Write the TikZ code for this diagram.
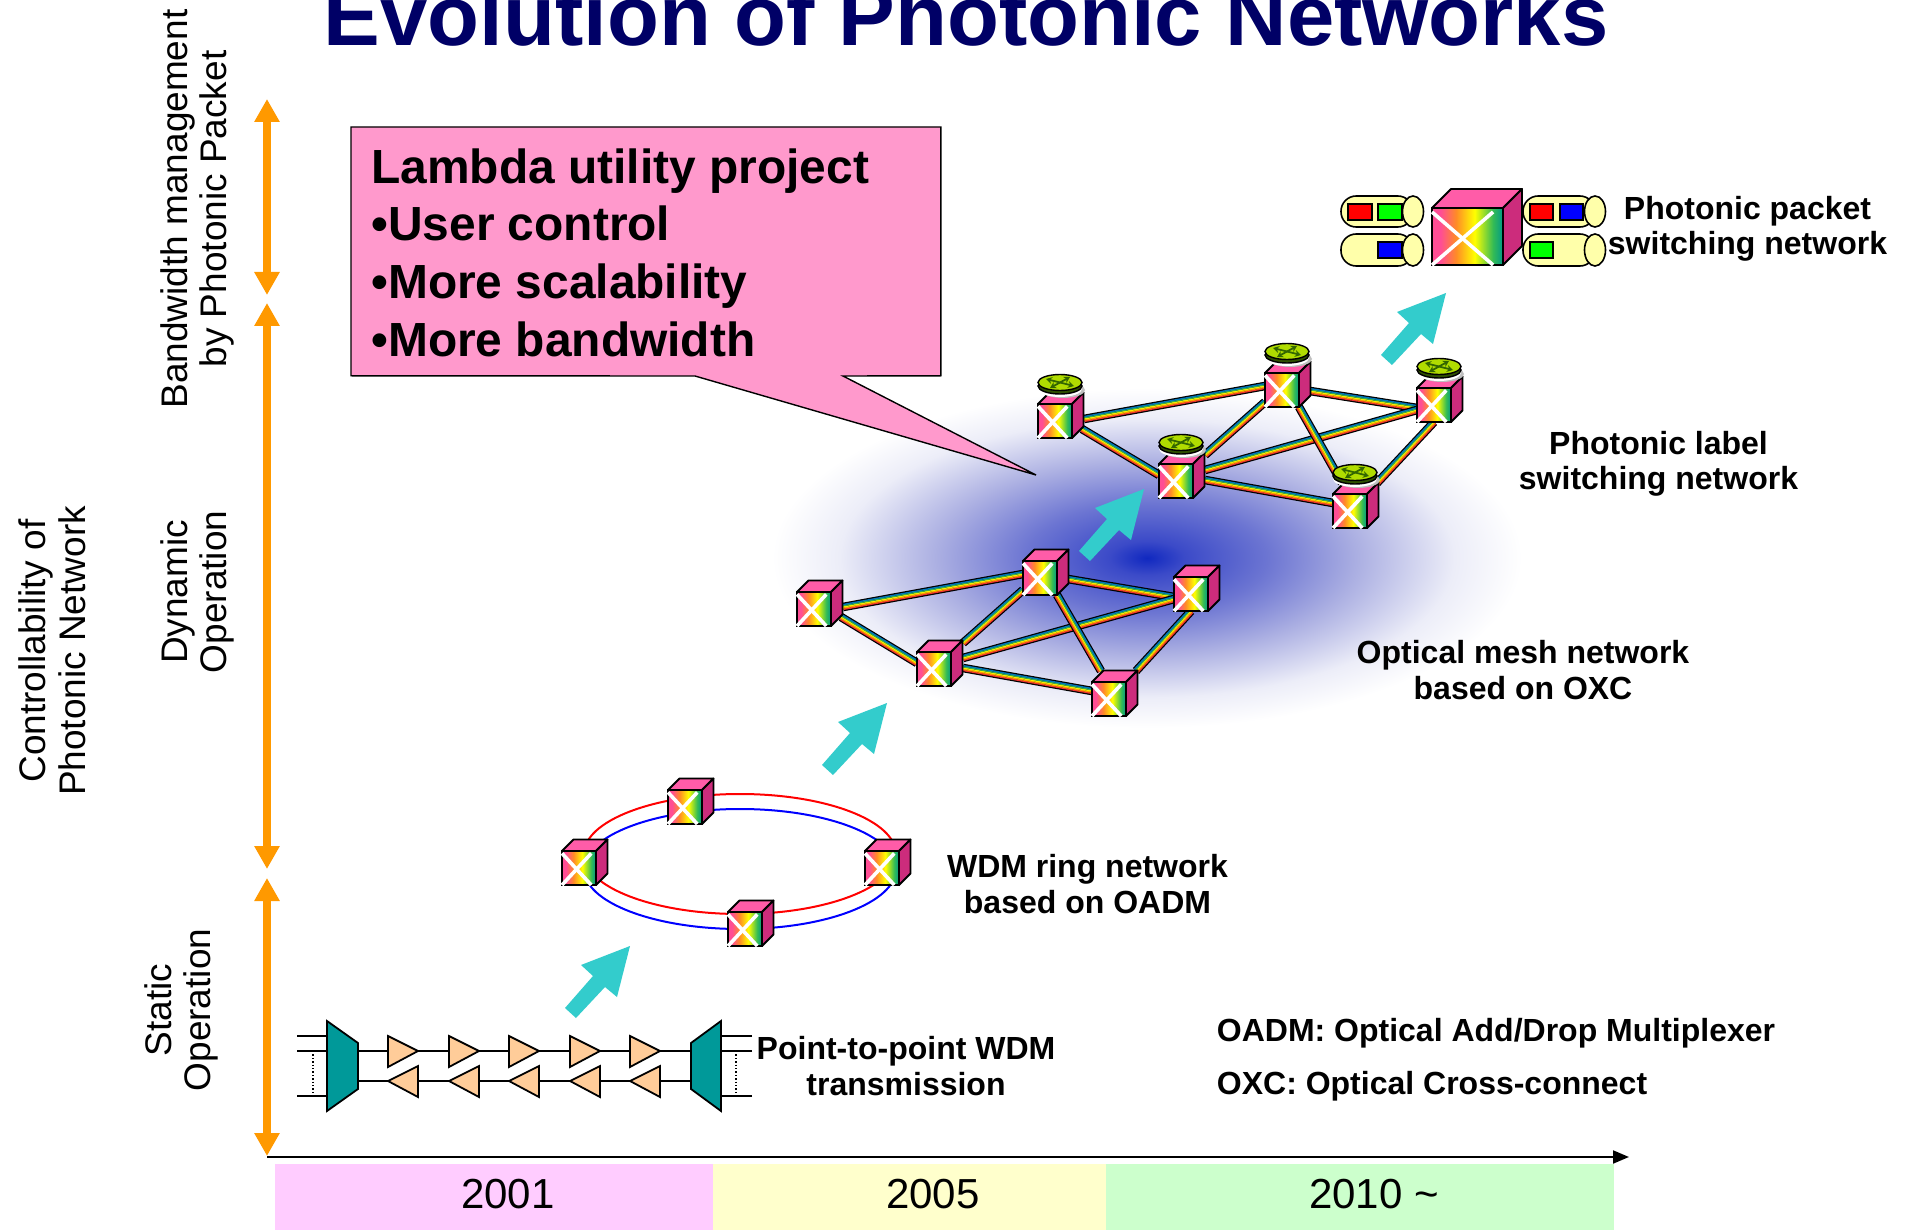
\documentclass[tikz,border=0pt]{standalone}
\usepackage{fontspec}
\setmainfont{Liberation Sans}
\usetikzlibrary{calc,arrows.meta,shapes.geometric}
\definecolor{titleblue}{HTML}{000066}
\definecolor{orangeaxis}{HTML}{FF9900}
\definecolor{fatteal}{HTML}{33CCCC}
\definecolor{calloutpink}{HTML}{FF99CC}
\definecolor{cubetop}{HTML}{FF5CA8}
\definecolor{cubeside}{HTML}{CC2C7C}
\definecolor{muxteal}{HTML}{009999}
\definecolor{ampfill}{HTML}{FFCC99}
\definecolor{cylfill}{HTML}{FFFFAA}
\definecolor{bandpink}{HTML}{FFCCFF}
\definecolor{bandyellow}{HTML}{FFFFCC}
\definecolor{bandgreen}{HTML}{CCFFCC}
\definecolor{rfa}{HTML}{FF4D94}
\definecolor{rfb}{HTML}{FF8C26}
\definecolor{rfc}{HTML}{FFFF00}
\definecolor{rfd}{HTML}{33BB55}
\definecolor{rfe}{HTML}{009988}
\definecolor{blobA}{HTML}{1028C0}
\definecolor{blobB}{HTML}{3B4AC8}
\definecolor{blobC}{HTML}{6C75D2}
\definecolor{blobD}{HTML}{ABAFE2}
\definecolor{blobE}{HTML}{ECEDF8}
\definecolor{diskrim}{HTML}{2E5000}
\definecolor{disklime}{HTML}{B0DC00}
\definecolor{diskmark}{HTML}{336600}
\definecolor{lkA}{HTML}{F03030}
\definecolor{lkB}{HTML}{FF9900}
\definecolor{lkC}{HTML}{F8EE00}
\definecolor{lkD}{HTML}{33B050}
\definecolor{lkE}{HTML}{0077BB}
\pgfdeclarehorizontalshading{cubeface}{100bp}{color(0bp)=(rfa); color(25bp)=(rfa); color(31bp)=(rfa); color(42bp)=(rfb); color(55bp)=(rfc); color(68bp)=(rfd); color(75bp)=(rfe); color(100bp)=(rfe)}
\pgfdeclareradialshading{blobshade}{\pgfpoint{0bp}{0bp}}{color(0bp)=(blobA); color(2.5bp)=(blobB); color(8bp)=(blobC); color(14bp)=(blobD); color(20.5bp)=(blobE); color(25bp)=(white); color(50bp)=(white)}
\pgfdeclarelayer{blobs}
\pgfdeclarelayer{links}
\pgfsetlayers{blobs,links,main}
\tikzset{
  px/.style={x=.5pt,y=-.5pt},
  boldlabel/.style={font=\fontsize{16}{17.7}\selectfont\bfseries,align=center,inner sep=0pt},
  sidelabel/.style={font=\fontsize{18.5}{19.8}\selectfont,align=center,rotate=90,inner sep=0pt},
  yearlabel/.style={font=\fontsize{21}{24}\selectfont,inner sep=0pt},
  frontface/.style={draw=black,line width=.9pt,shading=cubeface,inner sep=0pt,rectangle},
  cubeedge/.style={draw=black,line width=.9pt,line join=round},
  orangearrow/.style={draw=orangeaxis,line width=3.85pt,{Triangle[length=11.5pt,width=12pt]}-{Triangle[length=11.5pt,width=12pt]}},
  thinline/.style={draw=black,line width=.9pt},
  ampstyle/.style={fill=ampfill,draw=black,line width=.9pt,line join=miter},
  muxstyle/.style={fill=muxteal,draw=black,line width=.9pt},
  cylstyle/.style={fill=cylfill,draw=black,line width=.8pt},
  slot/.style={draw=black,line width=.8pt},
  ringstyle/.style={ellipse,inner sep=0pt,line width=1pt,minimum width=156pt,minimum height=60pt}
}
\newcommand{\photocube}[6]{% name,left,top,w,h,d
  \fill[cubetop] (#2,#3)--(#2+#6,#3-#6)--(#2+#4+#6,#3-#6)--(#2+#4,#3)--cycle;
  \draw[cubeedge] (#2,#3)--(#2+#6,#3-#6)--(#2+#4+#6,#3-#6)--(#2+#4,#3);
  \draw[cubeedge,fill=cubeside] (#2+#4,#3)--(#2+#4+#6,#3-#6)--(#2+#4+#6,#3+#5-#6)--(#2+#4,#3+#5)--cycle;
  \node[frontface,minimum width=#4*.5pt,minimum height=#5*.5pt] (#1) at (#2+#4/2,#3+#5/2) {};
  \draw[white,line width=1.8pt] (#2,#3+#5*.07)--(#2+#4*.86,#3+#5);
  \draw[white,line width=1.8pt] (#2+#4*.86,#3+#5*.07)--(#2,#3+#5);
}
\newcommand{\smallcube}[3]{\photocube{#1}{#2}{#3}{34}{34}{11.5}}
\newcommand{\routerdisk}[2]{% cube left, top
  \fill[black!25] (#1+25,#2-14) ellipse (22 and 8);
  \fill[white] (#1+22,#2-15) ellipse (22 and 8);
  \draw[fill=diskrim,line width=.7pt] (#1+22,#2-18) ellipse (22 and 8);
  \draw[fill=disklime,line width=.7pt] (#1+22,#2-21.5) ellipse (22 and 8);
  \draw[diskmark,line width=.9pt,-{Stealth[length=3pt,width=3.4pt]}] (#1+22,#2-21.5)--(#1+36,#2-18);
  \draw[diskmark,line width=.9pt,-{Stealth[length=3pt,width=3.4pt]}] (#1+22,#2-21.5)--(#1+32,#2-27);
  \draw[diskmark,line width=.9pt,-{Stealth[length=3pt,width=3.4pt]}] (#1+22,#2-21.5)--(#1+8,#2-25);
  \draw[diskmark,line width=.9pt,-{Stealth[length=3pt,width=3.4pt]}] (#1+22,#2-21.5)--(#1+12,#2-16);
}
\newcommand{\rainbowlink}[6]{% from,dx,dy,to,dx,dy
  \coordinate (lkS) at ($(#1)+(#2,#3)$);
  \coordinate (lkT) at ($(#4)+(#5,#6)$);
  \draw[line width=4.3pt,black] (lkS)--(lkT);
  \foreach \o/\c in {-1.2/lkA,-.6/lkB,0/lkC,.6/lkD,1.2/lkE}{
    \draw[\c,line width=.68pt] ($(lkS)!\o pt!90:(lkT)$)--($(lkT)!\o pt!-90:(lkS)$);
  }
}
\newcommand{\meshlinks}[1]{%
  \rainbowlink{#1a}{29}{-2}{#1b}{-17}{-4}
  \rainbowlink{#1a}{27}{8}{#1d}{-17}{-6}
  \rainbowlink{#1d}{29}{-26}{#1b}{-17}{12}
  \rainbowlink{#1b}{28}{1}{#1c}{-17}{3}
  \rainbowlink{#1d}{29}{-11}{#1c}{-17}{5}
  \rainbowlink{#1b}{17}{17}{#1e}{-8}{-28}
  \rainbowlink{#1e}{27}{-28}{#1c}{0}{17}
  \rainbowlink{#1d}{29}{-1}{#1e}{-17}{-8}
}
\newcommand{\tealarrow}[2]{% tip x,y
  \fill[fatteal] (#1,#2)--(#1-49,#2+19)--(#1-37,#2+30)--(#1-65,#2+62)--(#1-54,#2+72)--(#1-25,#2+41)--(#1-13,#2+51)--cycle;
}
\newcommand{\packetcyl}[4]{% left, end-centre x, top, bottom
  \draw[cylstyle,rounded corners=7.6pt] (#1,#3) rectangle (#2,#4);
  \draw[cylstyle] (#2,{(#3+#4)/2}) ellipse (10.5 and {(#4-#3)/2});
}
\begin{document}
\begin{tikzpicture}[px]
\useasboundingbox (0,0) rectangle (1913,1230);

% gradient
\begin{pgfonlayer}{blobs}
  \fill[white] (0,0) rectangle (1913,1230);
  \shade[shading=blobshade] (1147,558) ellipse (375 and 170);
\end{pgfonlayer}

% title
\node[font=\fontsize{42.5}{48}\selectfont\bfseries,text=titleblue,anchor=base,inner sep=0pt] (title) at (966,46) {Evolution of Photonic Networks};

% side labels
\node[sidelabel] (bwlabel) at (197.5,209) {Bandwidth management\\by Photonic Packet};
\node[sidelabel] (dynlabel) at (197.5,592) {Dynamic\\Operation};
\node[sidelabel] (staticlabel) at (181.5,1010) {Static\\Operation};
\node[sidelabel] (ctrllabel) at (52,651) {Controllability of\\Photonic Network};

% orange arrows
\coordinate (oa1) at (267,99); \coordinate (ob1) at (267,295);
\coordinate (oa2) at (267,303); \coordinate (ob2) at (267,869);
\coordinate (oa3) at (267,878); \coordinate (ob3) at (267,1156);
\draw[orangearrow] (oa1)--(ob1);
\draw[orangearrow] (oa2)--(ob2);
\draw[orangearrow] (oa3)--(ob3);

% time axis
\coordinate (axisA) at (267,1157); \coordinate (axisB) at (1629,1157);
\draw[line width=1pt,black,-{Triangle[length=8pt,width=6.5pt]}] (axisA)--(axisB);
\fill[bandpink] (275,1164) rectangle (712.5,1230);
\fill[bandyellow] (712.5,1164) rectangle (1105.5,1230);
\fill[bandgreen] (1105.5,1164) rectangle (1614,1230);
\node[yearlabel] (y2001) at (508,1194.5) {2001};
\node[yearlabel] (y2005) at (933,1194.5) {2005};
\node[yearlabel] (y2010) at (1374,1194.5) {2010 \textasciitilde};

% callout
\node[anchor=north west,minimum width=294.5pt,minimum height=124pt,inner sep=0pt] (callout) at (351,127) {};
\coordinate (tailA) at (843,376); \coordinate (tailTip) at (1036,475); \coordinate (tailB) at (695,376);
\begin{pgfonlayer}{links}
  \draw[fill=calloutpink,line width=.7pt,line join=miter] (callout.north west)--(callout.north east)--(callout.south east)--(tailA)--(tailTip)--(tailB)--(callout.south west)--cycle;
\end{pgfonlayer}
\node[anchor=north west,font=\fontsize{23.95}{28.9}\selectfont\bfseries,align=left,inner sep=0pt] (callouttext) at (371,148) {Lambda utility project\\•User control\\•More scalability\\•More bandwidth};

% point to point
\coordinate (ll1) at (297,1036); \coordinate (lm1) at (327,1036);
\coordinate (ll2) at (297,1051); \coordinate (lm2) at (327,1051);
\coordinate (ll3) at (297,1096); \coordinate (lm3) at (327,1096);
\coordinate (rr1) at (752,1036); \coordinate (rm1) at (721,1036);
\coordinate (rr2) at (752,1051); \coordinate (rm2) at (721,1051);
\coordinate (rr3) at (752,1096); \coordinate (rm3) at (721,1096);
\coordinate (fibA1) at (358,1051); \coordinate (fibA2) at (691,1051);
\coordinate (fibB1) at (358,1081); \coordinate (fibB2) at (691,1081);
\draw[thinline] (ll1)--(lm1) (ll2)--(lm2) (ll3)--(lm3);
\draw[thinline] (rr1)--(rm1) (rr2)--(rm2) (rr3)--(rm3);
\draw[black,line width=.7pt,densely dotted] (313,1051)--(313,1096);
\draw[black,line width=.7pt,densely dotted] (736,1051)--(736,1096);
\draw[thinline] (fibA1)--(fibA2) (fibB1)--(fibB2);
\draw[muxstyle] (327,1021)--(358,1043)--(358,1089)--(327,1111)--cycle;
\draw[muxstyle] (721,1021)--(691,1043)--(691,1089)--(721,1111)--cycle;
\foreach \ax in {388,449,509,570,630}{
  \draw[ampstyle] (\ax,1036)--(\ax+30,1051)--(\ax,1067)--cycle;
  \draw[ampstyle] (\ax+30,1066)--(\ax,1081)--(\ax+30,1097)--cycle;
}
\node[boldlabel] (p2plabel) at (906,1066) {Point-to-point WDM\\transmission};

% ring
\smallcube{ra}{562}{851}
\smallcube{rb}{668}{790}
\smallcube{rc}{865}{851}
\smallcube{rd}{728}{912}
\begin{pgfonlayer}{links}
  \node[ringstyle,draw=red] (redring) at (740,854) {};
  \node[ringstyle,draw=blue] (bluering) at (740,869) {};
\end{pgfonlayer}
\node[boldlabel] (ringlabel) at (1087.5,884) {WDM ring network\\based on OADM};

% mesh
\smallcube{ma}{797}{592}
\smallcube{mb}{1023}{561}
\smallcube{mc}{1174}{577}
\smallcube{md}{917}{652}
\smallcube{me}{1092}{682}
\begin{pgfonlayer}{links}
  \meshlinks{m}
\end{pgfonlayer}
\node[boldlabel] (meshlabel) at (1523,670) {Optical mesh network\\based on OXC};

% label switching
\smallcube{la}{1038}{404}\routerdisk{1038}{404}
\smallcube{lb}{1265}{373}\routerdisk{1265}{373}
\smallcube{lc}{1417}{388}\routerdisk{1417}{388}
\smallcube{ld}{1159}{464}\routerdisk{1159}{464}
\smallcube{le}{1333}{494}\routerdisk{1333}{494}
\begin{pgfonlayer}{links}
  \meshlinks{l}
\end{pgfonlayer}
\node[boldlabel] (labellabel) at (1658.5,463.5) {Photonic label\\switching network};

% packet switching
\packetcyl{1341}{1413}{196}{227}
\packetcyl{1341}{1413}{234}{266}
\packetcyl{1523}{1595}{196}{227}
\packetcyl{1523}{1595}{234}{266}
\draw[slot,fill=red] (1348,204) rectangle (1372,220);
\draw[slot,fill=green] (1378,204) rectangle (1402,220);
\draw[slot,fill=blue] (1378,242) rectangle (1402,258);
\draw[slot,fill=red] (1530,204) rectangle (1553,220);
\draw[slot,fill=blue] (1560,204) rectangle (1583,220);
\draw[slot,fill=green] (1530,242) rectangle (1553,258);
\photocube{bigcube}{1432}{208}{71}{57}{19}
\node[boldlabel] (packetlabel) at (1747.5,229) {Photonic packet\\switching network};

% teal arrows
\tealarrow{630}{946}
\tealarrow{887}{703}
\tealarrow{1144}{489}
\tealarrow{1446}{293}

% legend
\node[boldlabel,anchor=west] (oadm) at (1216.5,1033) {OADM: Optical Add/Drop Multiplexer};
\node[boldlabel,anchor=west] (oxc) at (1216.5,1086.5) {OXC: Optical Cross-connect};
\end{tikzpicture}
\end{document}
